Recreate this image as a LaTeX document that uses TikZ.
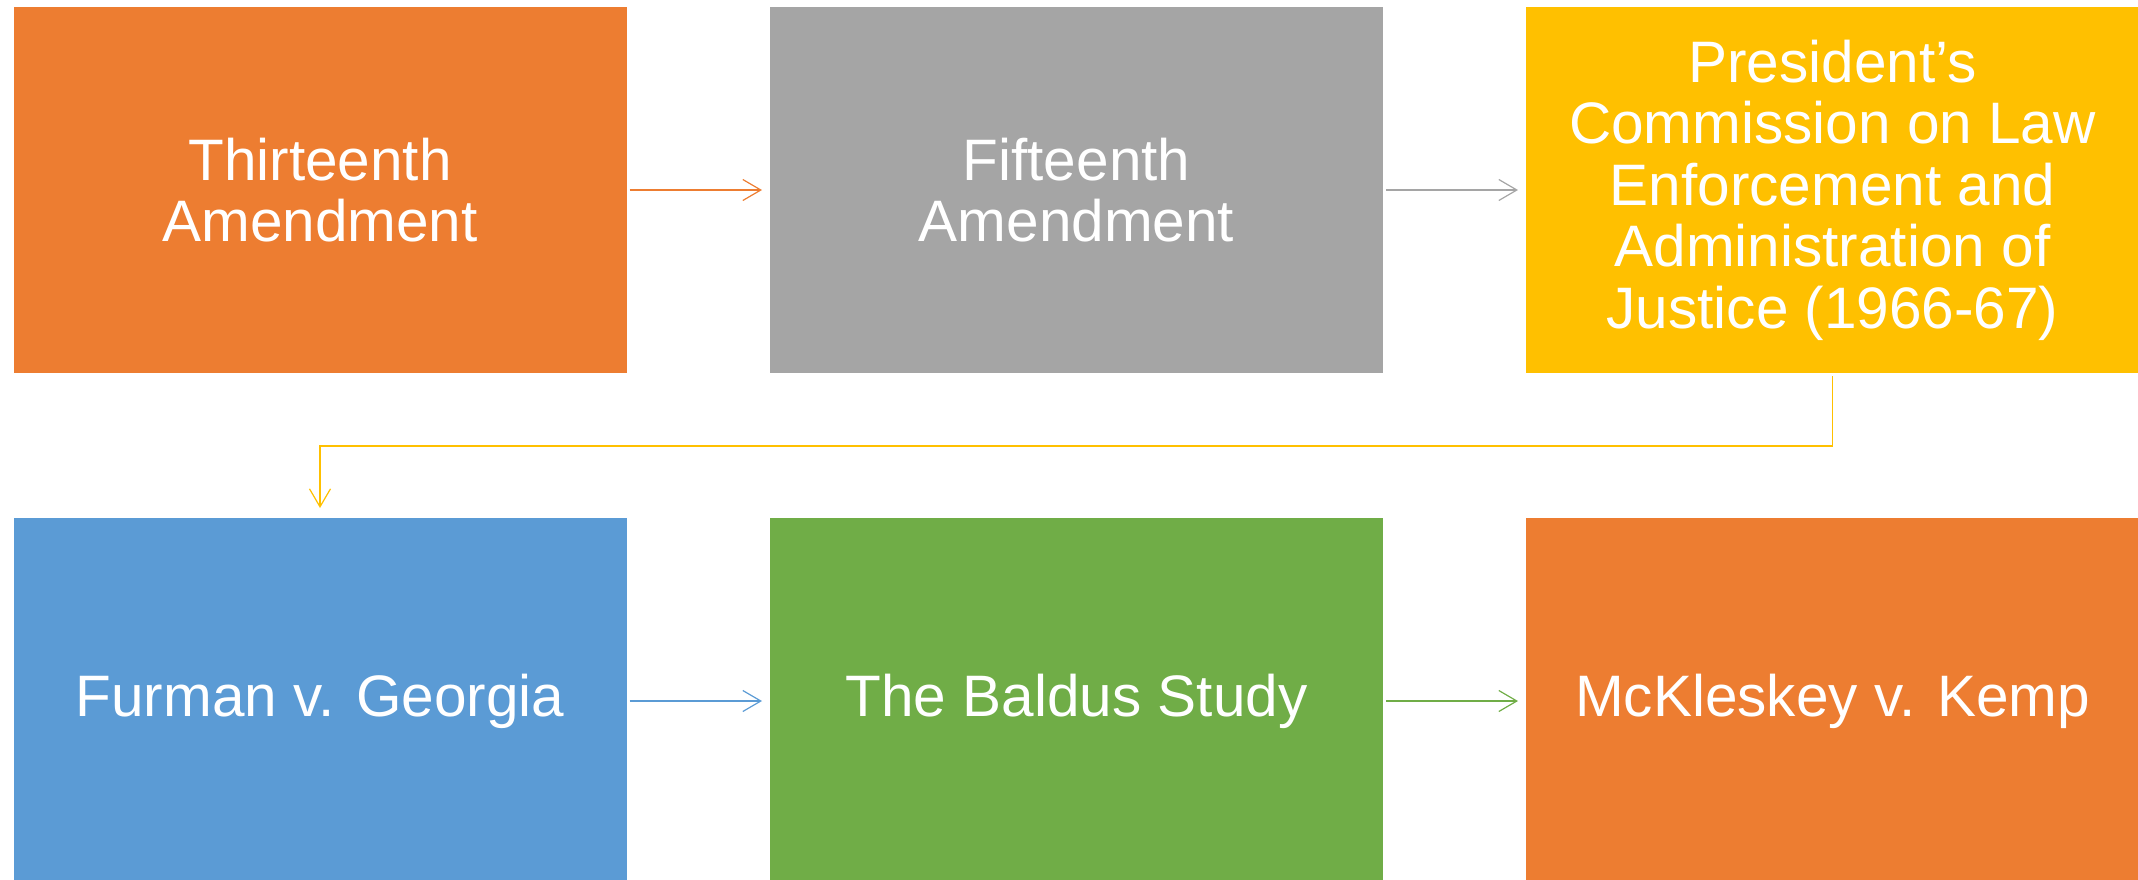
\documentclass[tikz,border=0pt]{standalone}
\usepackage{fontspec}
\setmainfont{Liberation Sans}
\usetikzlibrary{arrows.meta}
\definecolor{cOrange}{HTML}{ED7D31}
\definecolor{cGray}{HTML}{A5A5A5}
\definecolor{cGold}{HTML}{FFC000}
\definecolor{cBlue}{HTML}{5B9BD5}
\definecolor{cGreen}{HTML}{70AD47}
\begin{document}
\begin{tikzpicture}[x=1pt,y=-1pt,
  stage/.style={rectangle, minimum width=613pt, minimum height=366pt,
    inner sep=0pt, outer sep=0pt, text=white, align=center,
    font=\fontsize{58.5}{61.5}\selectfont},
  flow/.style={line width=1.2pt, -{Straight Barb[length=18pt,width=21pt,line width=1.2pt]}}]
\useasboundingbox (0,0) rectangle (2138,879);
% first row
\node[stage, fill=cOrange] (t13) at (320,190) {Thirteenth\\Amendment};
\node[stage, fill=cGray] (t15) at (1076.5,190) {Fifteenth\\Amendment};
\node[stage, fill=cGold] (pres) at (1832.5,190) {President’s\\Commission on Law\\Enforcement and\\Administration of\\Justice (1966-67)};
% second row
\node[stage, fill=cBlue] (furman) at (320,701) {Furman v. Georgia};
\node[stage, fill=cGreen] (baldus) at (1076.5,701) {The Baldus Study};
\node[stage, fill=cOrange] (mck) at (1832.5,701) {McKleskey v. Kemp};
% connectors
\draw[flow, cOrange] ([xshift=3pt]t13.east) -- ([xshift=-8pt]t15.west);
\draw[flow, cGray] ([xshift=3pt]t15.east) -- ([xshift=-8pt]pres.west);
\coordinate (bend) at (1832.5,446);
\draw[flow, cGold] ([yshift=-3pt]pres.south) -- (bend) -| ([yshift=10pt]furman.north);
\draw[flow, cBlue] ([xshift=3pt]furman.east) -- ([xshift=-8pt]baldus.west);
\draw[flow, cGreen] ([xshift=3pt]baldus.east) -- ([xshift=-8pt]mck.west);
\end{tikzpicture}
\end{document}
